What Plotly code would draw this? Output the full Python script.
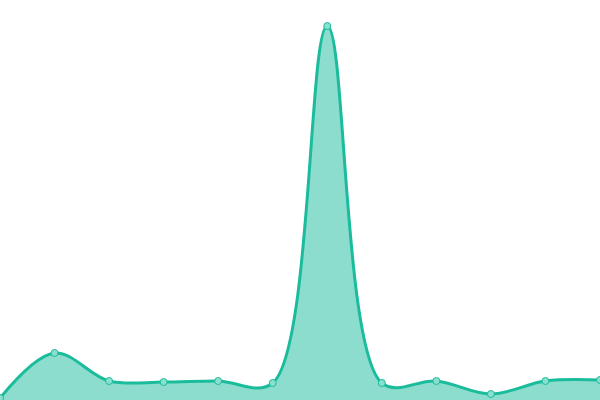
import plotly.graph_objects as go

# values (pixels from bottom)
x_vals = list(range(12))
y_vals = [2, 47, 19, 18, 19, 17, 374, 17, 19, 6, 19, 20]

line_color = "#1abc9c"
fill_color = "rgba(26,188,156,0.5)"

fig = go.Figure()
fig.add_trace(go.Scatter(
    x=x_vals, y=y_vals,
    mode="lines+markers",
    line=dict(color=line_color, width=3, shape="spline", smoothing=1),
    fill="tozeroy", fillcolor=fill_color,
    marker=dict(size=7, color="#8ae0cf", line=dict(color=line_color, width=1)),
    cliponaxis=False,
))

fig.update_layout(
    width=600, height=400,
    margin=dict(l=0, r=0, t=0, b=0),
    paper_bgcolor="white", plot_bgcolor="white",
    showlegend=False,
    xaxis=dict(visible=False, range=[0, 11]),
    yaxis=dict(visible=False, range=[0, 400]),
)

# page has a default body margin, drop it so the chart fills the window
fig.write_html("out.html",
               config={"displayModeBar": False},
               post_script="document.body.style.margin='0';document.body.style.overflow='hidden';")
